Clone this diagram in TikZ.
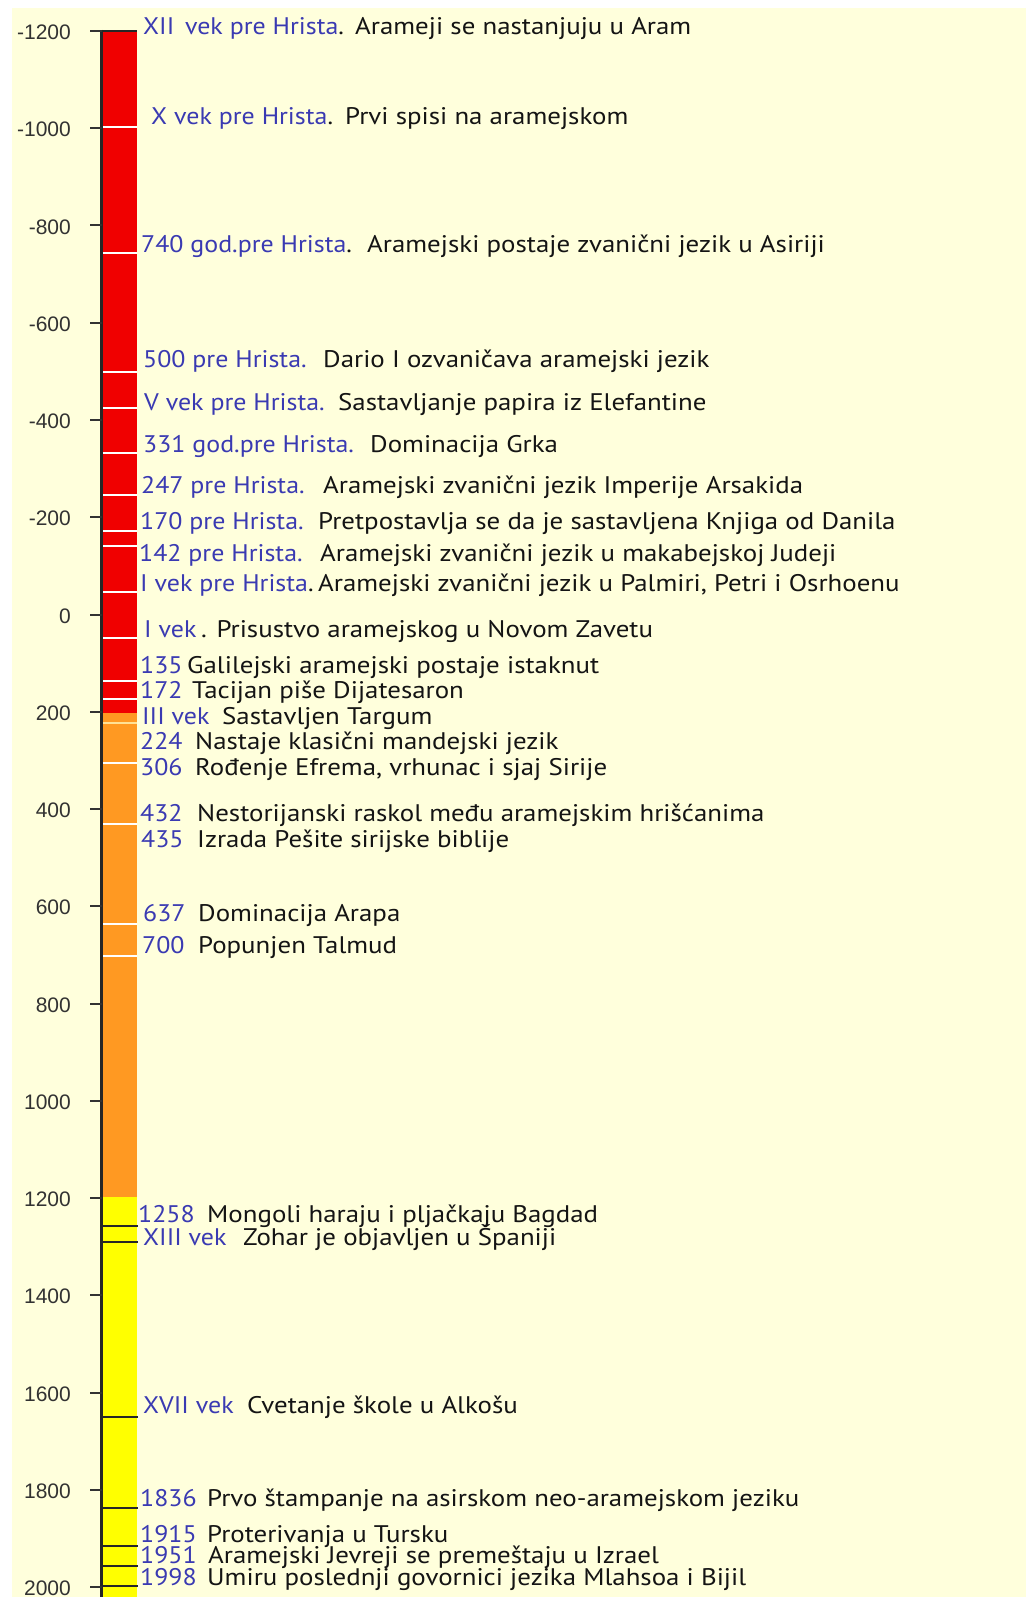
\documentclass[tikz,border=0pt]{standalone}
\usepackage{fontspec}
\setmainfont[FakeStretch=1.12]{PT Sans}
\newfontfamily\yearfont[FakeStretch=1.08]{PT Sans}
\newfontfamily\tickfont{Liberation Sans}
\definecolor{bgcream}{RGB}{255,255,220}
\definecolor{barred}{RGB}{240,0,0}
\definecolor{barorange}{RGB}{255,153,34}
\definecolor{baryellow}{RGB}{255,255,0}
\definecolor{evblue}{RGB}{58,58,178}
\definecolor{evblack}{RGB}{20,20,20}
\definecolor{tickgray}{RGB}{50,50,50}
\definecolor{lightline}{RGB}{255,225,150}
\tikzset{
  evtext/.style={anchor=base west, inner sep=0pt, font=\fontsize{24}{24}\selectfont, text=evblack},
  evyear/.style={anchor=base west, inner sep=0pt, font=\yearfont\fontsize{24}{24}\selectfont, text=evblue},
  ticklabel/.style={anchor=east, inner sep=0pt, font=\tickfont\fontsize{21}{21}\selectfont, text=tickgray},
  tickmark/.style={draw=tickgray, line width=2pt},
  axisline/.style={draw=black!85, line width=2.2pt},
  whiteline/.style={draw=white, line width=1.6pt},
  paleline/.style={draw=lightline, line width=1.6pt},
  darkline/.style={draw=black!85, line width=2pt}
}
\begin{document}
\begin{tikzpicture}[x=1pt,y=-1pt]
\useasboundingbox (0,0) rectangle (1026,1597);
\fill[white] (0,0) rectangle (1026,1597);
\fill[bgcream] (12,8) rectangle (1026,1597);
% bar
\fill[barred] (102,31) rectangle (136.5,712.5);
\fill[barorange] (102,712.5) rectangle (136.5,1197);
\fill[baryellow] (102,1197) rectangle (136.5,1597);
% event marks in the bar
\foreach \yy in {127,253,372,408,453,495,531,546,592,638,681,699,763,824,924,956}
  \draw[whiteline] (103,\yy) -- (137,\yy);
\draw[paleline] (103,723) -- (137,723);
\foreach \yy in {1226,1242,1417,1508,1546,1566,1586}
  \draw[darkline] (101,\yy) -- (137.5,\yy);
\draw[darkline, line width=1.5pt] (101,31) -- (137,31);
% axis
\draw[axisline] (101.5,30) -- (101.5,1597);
% ticks and labels
\foreach \k [count=\i] in {-1200,-1000,-800,-600,-400,-200,0,200,400,600,800,1000,1200,1400,1600,1800,2000}{
  \pgfmathsetmacro{\ty}{614.5+0.48625*\k}
  \draw[tickmark] (90,\ty) -- (101.5,\ty);
  \node[ticklabel] (tl\i) at (71,\ty+1.5) {\k};
}
% events
\node[evyear] (y1) at (143,35) {XII\hspace{0.45em}vek pre Hrista{\color{evblack}.}};
\node[evtext] (e1) at (355,35) {Arameji se nastanjuju u Aram};
\node[evyear] (y2) at (151,125) {X vek pre Hrista{\color{evblack}.}};
\node[evtext] (e2) at (345,125) {Prvi spisi na aramejskom};
\node[evyear] (y3) at (141,252) {740 god.pre Hrista{\color{evblack}.}};
\node[evtext] (e3) at (367,252) {Aramejski postaje zvanični jezik u Asiriji};
\node[evyear] (y4) at (143,367) {500 pre Hrista.};
\node[evtext] (e4) at (323,367) {Dario I ozvaničava aramejski jezik};
\node[evyear] (y5) at (144,410) {V vek pre Hrista.};
\node[evtext] (e5) at (338,410) {Sastavljanje papira iz Elefantine};
\node[evyear] (y6) at (143,452) {331 god.pre Hrista.};
\node[evtext] (e6) at (370,452) {Dominacija Grka};
\node[evyear] (y7) at (141,493) {247 pre Hrista.};
\node[evtext] (e7) at (323,493) {Aramejski zvanični jezik Imperije Arsakida};
\node[evyear] (y8) at (140,529) {170 pre Hrista.};
\node[evtext] (e8) at (318,529) {Pretpostavlja se da je sastavljena Knjiga od Danila};
\node[evyear] (y9) at (139,561) {142 pre Hrista.};
\node[evtext] (e9) at (320,561) {Aramejski zvanični jezik u makabejskoj Judeji};
\node[evyear] (y10) at (140,591) {I vek pre Hrista{\color{evblack}.}};
\node[evtext] (e10) at (318,591) {Aramejski zvanični jezik u Palmiri, Petri i Osrhoenu};
\node[evyear] (y11) at (144,637) {I vek};
\node[evtext] (e11) at (201,637) {. Prisustvo aramejskog u Novom Zavetu};
\node[evyear] (y12) at (140,673) {135};
\node[evtext] (e12) at (187,673) {Galilejski aramejski postaje istaknut};
\node[evyear] (y13) at (140,698) {172};
\node[evtext] (e13) at (192,698) {Tacijan piše Dijatesaron};
\node[evyear] (y14) at (142,724) {III vek};
\node[evtext] (e14) at (222,724) {Sastavljen Targum};
\node[evyear] (y15) at (140,749) {224};
\node[evtext] (e15) at (195,749) {Nastaje klasični mandejski jezik};
\node[evyear] (y16) at (140,775) {306};
\node[evtext] (e16) at (195,775) {Rođenje Efrema, vrhunac i sjaj Sirije};
\node[evyear] (y17) at (140,821) {432};
\node[evtext] (e17) at (197,821) {Nestorijanski raskol među aramejskim hrišćanima};
\node[evyear] (y18) at (141,847) {435};
\node[evtext] (e18) at (197,847) {Izrada Pešite sirijske biblije};
\node[evyear] (y19) at (143,921) {637};
\node[evtext] (e19) at (198,921) {Dominacija Arapa};
\node[evyear] (y20) at (142,953) {700};
\node[evtext] (e20) at (198,953) {Popunjen Talmud};
\node[evyear] (y21) at (138,1222) {1258};
\node[evtext] (e21) at (207,1222) {Mongoli haraju i pljačkaju Bagdad};
\node[evyear] (y22) at (143,1245) {XIII vek};
\node[evtext] (e22) at (243,1245) {Zohar je objavljen u Španiji};
\node[evyear] (y23) at (143,1413) {XVII vek};
\node[evtext] (e23) at (247,1413) {Cvetanje škole u Alkošu};
\node[evyear] (y24) at (140,1506) {1836};
\node[evtext] (e24) at (207,1506) {Prvo štampanje na asirskom neo-aramejskom jeziku};
\node[evyear] (y25) at (140,1542) {1915};
\node[evtext] (e25) at (207,1542) {Proterivanja u Tursku};
\node[evyear] (y26) at (140,1563) {1951};
\node[evtext] (e26) at (208,1563) {Aramejski Jevreji se premeštaju u Izrael};
\node[evyear] (y27) at (140,1585) {1998};
\node[evtext] (e27) at (207,1585) {Umiru poslednji govornici jezika Mlahsoa i Bijil};
\end{tikzpicture}
\end{document}
